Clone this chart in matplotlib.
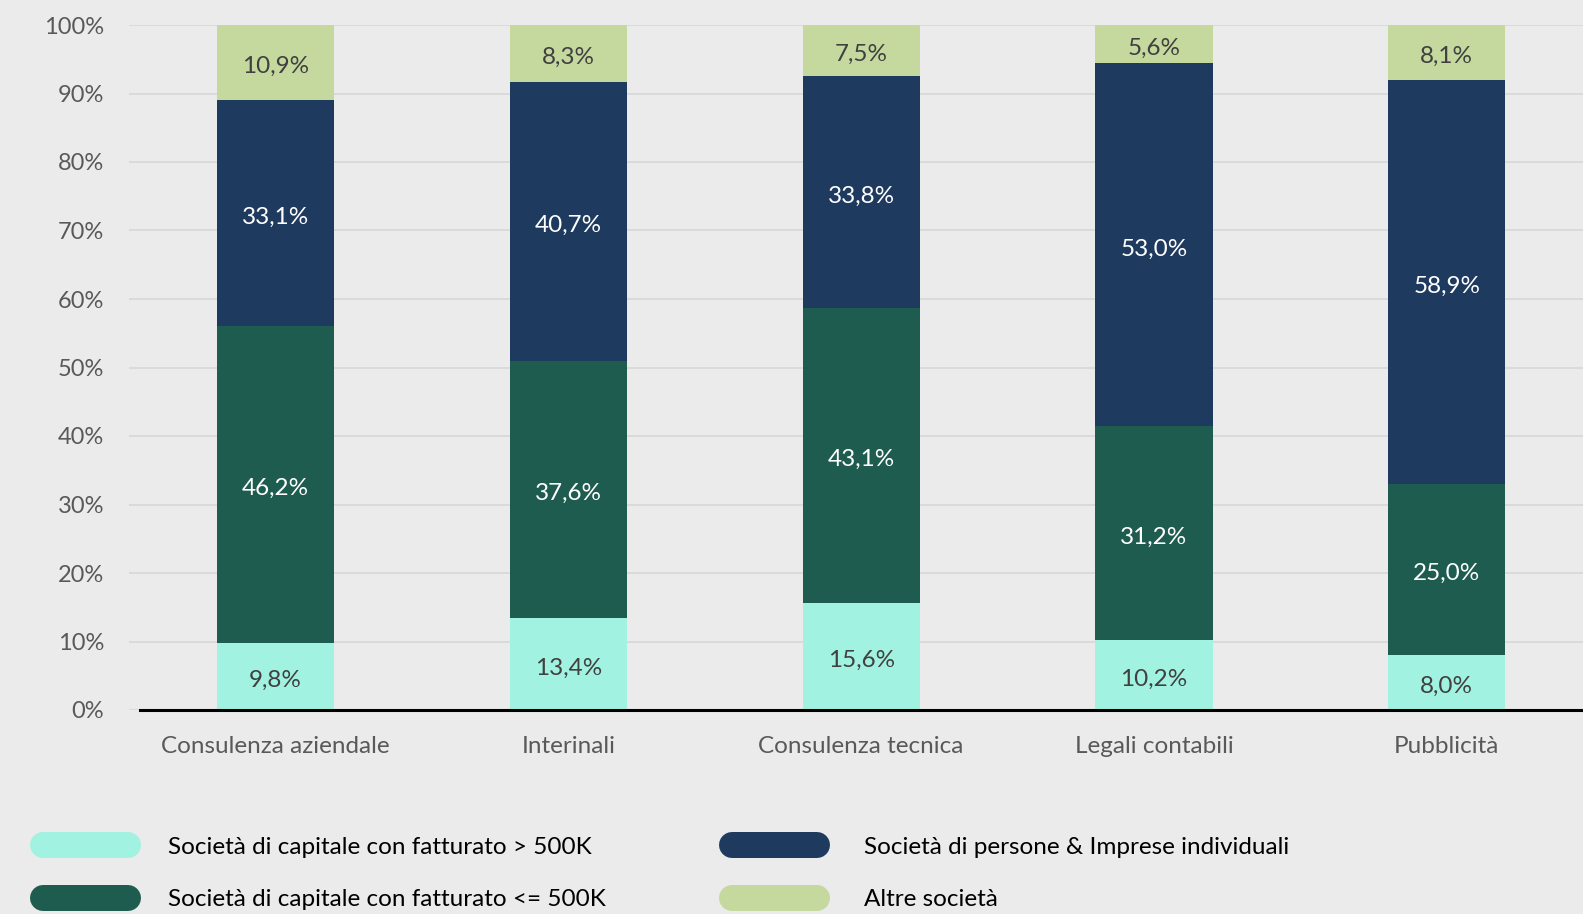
import numpy as np
import matplotlib.pyplot as plt
from matplotlib.lines import Line2D
from matplotlib.transforms import offset_copy

plt.rcParams['font.family'] = ['Lato', 'DejaVu Sans']

# data
categories = ['Consulenza aziendale', 'Interinali', 'Consulenza tecnica', 'Legali contabili', 'Pubblicità']
series_names = ['Società di capitale con fatturato > 500K',
                'Società di capitale con fatturato <= 500K',
                'Società di persone & Imprese individuali',
                'Altre società']
cap_big = [9.8, 13.4, 15.6, 10.2, 8.0]
cap_small = [46.2, 37.6, 43.1, 31.2, 25.0]
persone = [33.1, 40.7, 33.8, 53.0, 58.9]
altre = [10.9, 8.3, 7.5, 5.6, 8.1]

colors = ['#a1f2e1', '#1f5c50', '#1f3a5f', '#c5d89e']
label_colors = ['#404040', 'white', 'white', '#404040']
bg = '#ebebeb'

fig = plt.figure(figsize=(15.83, 9.14), dpi=100, facecolor=bg)
ax = fig.add_axes([129/1583, 1-710/914, 1-129/1583, 685/914])
ax.set_facecolor(bg)

# shift labels a couple of pixels down
lbl_tr = offset_copy(ax.transData, fig=fig, x=0, y=-2, units='dots')

x = np.arange(len(categories))
bottom = np.zeros(len(categories))
for vals, c, lc in zip([cap_big, cap_small, persone, altre], colors, label_colors):
    vals = np.array(vals)
    ax.bar(x, vals, 0.40, bottom=bottom, color=c, zorder=3)
    for xi, b, v in zip(x, bottom, vals):
        ax.text(xi, b + v/2, f'{v:.1f}%'.replace('.', ','), ha='center', va='center_baseline',
                color=lc, fontsize=17.5, zorder=4, transform=lbl_tr)
    bottom += vals

ax.set_xlim(-0.5, 4.465)
ax.set_ylim(0, 100)
ax.set_yticks(range(0, 101, 10))
ax.set_yticklabels([f'{v}%' for v in range(0, 101, 10)])
ax.set_xticks(x)
ax.set_xticklabels(categories)
ax.tick_params(axis='y', length=0, pad=18, labelsize=17, labelcolor='#595959')
ax.tick_params(axis='x', length=0, pad=19, labelsize=17.5, labelcolor='#595959')
ax.grid(axis='y', color='#d9d9d9', linewidth=1.3, zorder=0)
for s in ax.spines.values():
    s.set_visible(False)
ax.axhline(0, xmin=11/1454, xmax=1, color='black', linewidth=2.2, zorder=5, clip_on=False)

# legend with pill shaped swatches
W, H = 1583, 914
leg = [(30, 845, 168), (30, 898, 168), (719, 845, 864), (719, 898, 864)]
for i, (px, py, tx) in enumerate(leg):
    fig.add_artist(Line2D([(px + 13)/W, (px + 98)/W], [(H-py)/H, (H-py)/H],
                          transform=fig.transFigure, color=colors[i],
                          linewidth=26*0.72, solid_capstyle='round'))
    fig.text(tx/W, (H-py)/H, series_names[i], ha='left', va='center_baseline',
             fontsize=17.5, color='black')

fig.savefig('out.png', dpi=100, facecolor=bg)
